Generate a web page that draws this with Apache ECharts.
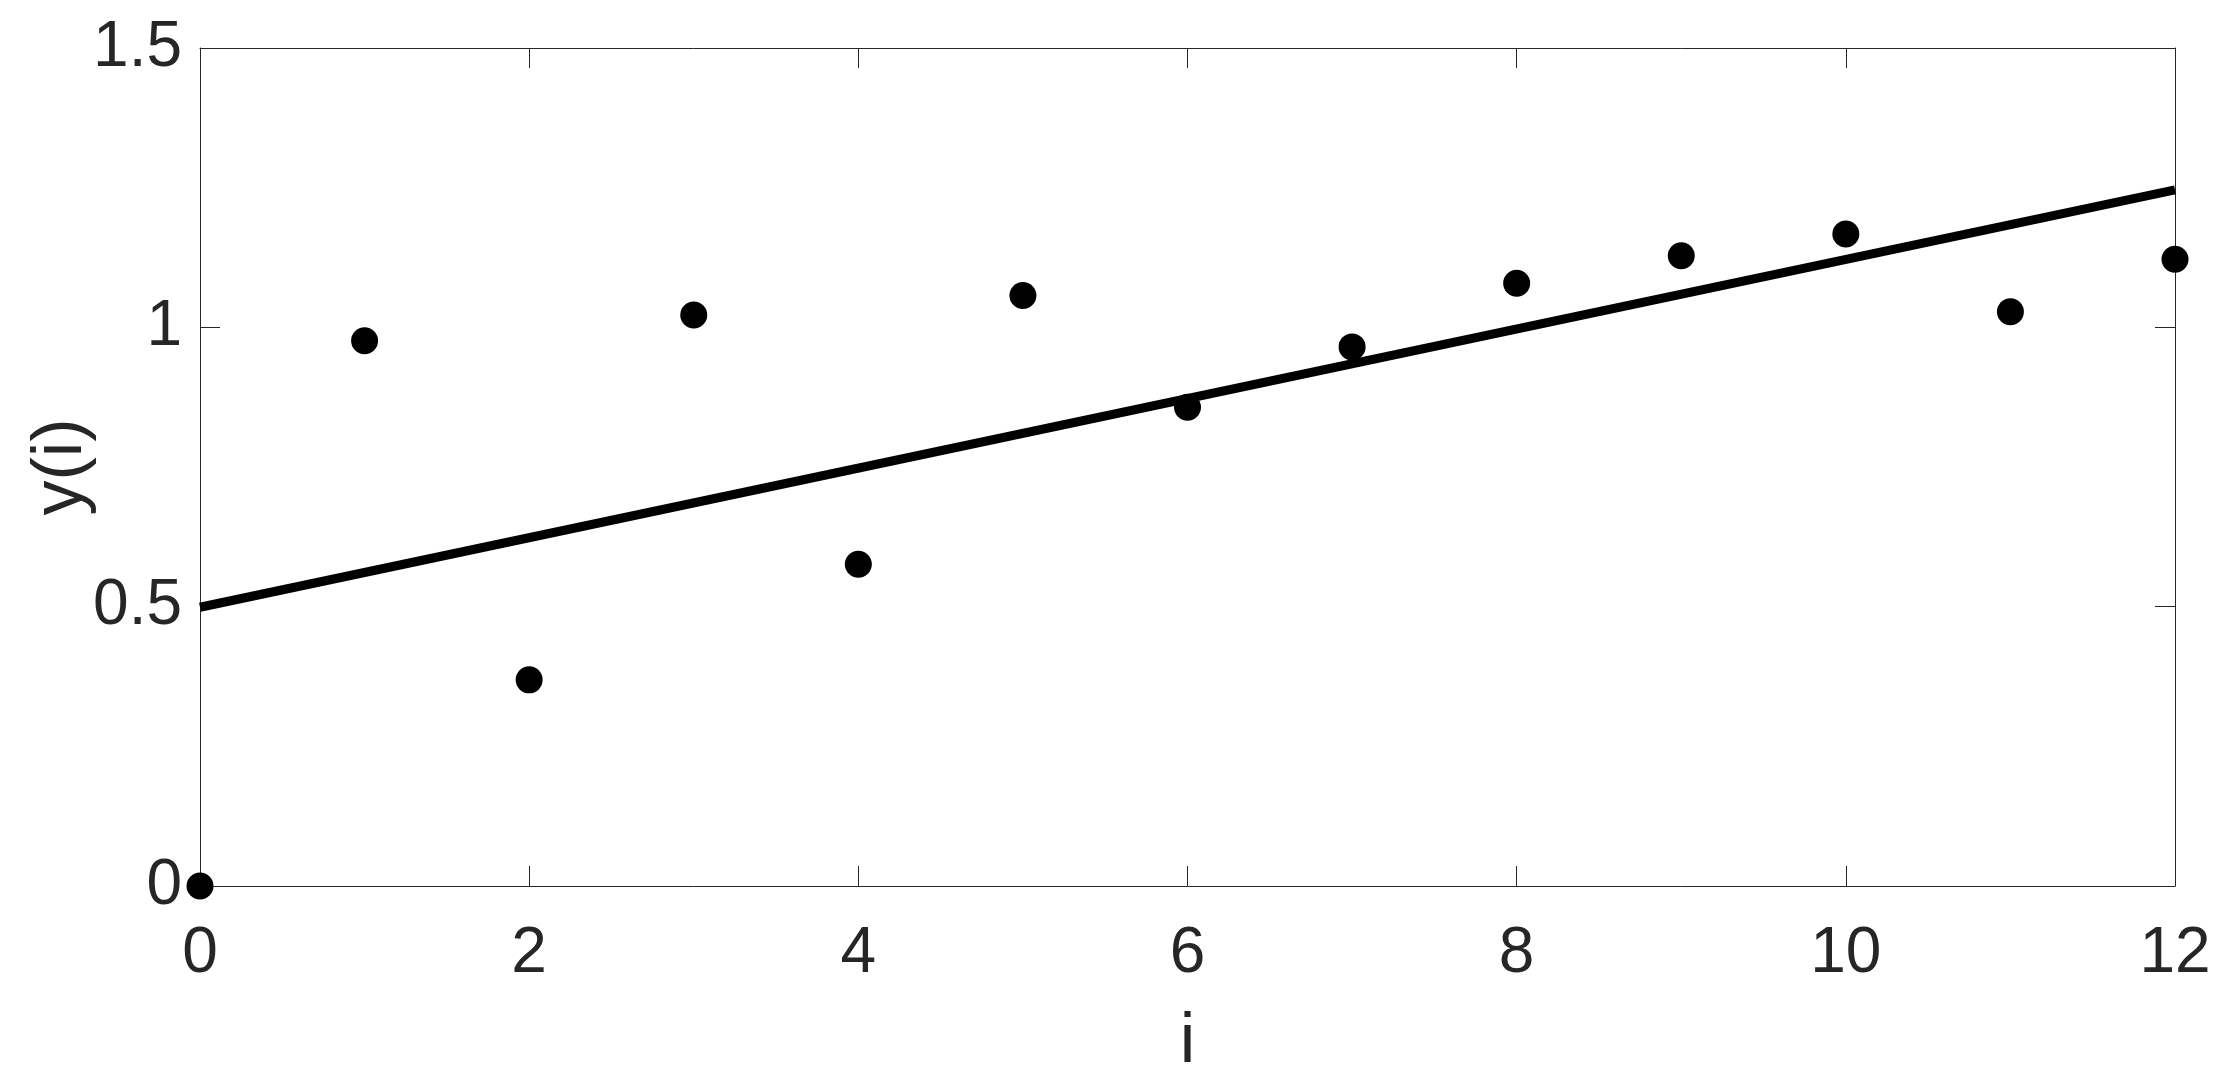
<!DOCTYPE html>
<html>
<head>
<meta charset="utf-8">
<script src="https://cdn.jsdelivr.net/npm/echarts@6/dist/echarts.min.js"></script>
<style>
  html, body { margin: 0; padding: 0; background: #fff; }
  #chart { width: 2229px; height: 1083px; }
</style>
</head>
<body>
<div id="chart"></div>
<script>
// measured points y(i)
const iValues = [0, 1, 2, 3, 4, 5, 6, 7, 8, 9, 10, 11, 12]
const yValues = [0, 0.976, 0.369, 1.022, 0.576, 1.057, 0.857, 0.965, 1.079, 1.128, 1.167, 1.028, 1.122]
// fitted line end points
const fitX = [0, 12]
const fitY = [0.499, 1.246]

const textColor = '#262626'
const font = 'Liberation Sans, Arial, Helvetica, sans-serif'

const pts = iValues.map((x, k) => [x, yValues[k]])
const fit = fitX.map((x, k) => [x, fitY[k]])

const chart = echarts.init(document.getElementById('chart'))

const baseAxis = {
    axisLine: { show: true, onZero: false, lineStyle: { color: textColor, width: 1 } },
    axisTick: { show: true, inside: true, length: 20, lineStyle: { color: textColor, width: 1 } },
    splitLine: { show: false },
    axisLabel: { color: textColor, fontSize: 64, fontFamily: font }
}

chart.setOption({
    animation: false,
    backgroundColor: '#fff',
    grid: { left: 200, right: 54, top: 48, bottom: 197 },
    xAxis: [
        {
            ...baseAxis,
            type: 'value',
            min: 0, max: 12, interval: 2,
            position: 'bottom',
            axisLabel: { ...baseAxis.axisLabel, margin: 36 },
            name: 'i',
            nameLocation: 'middle',
            nameGap: 122,
            nameMoveOverlap: false,
            nameTextStyle: { color: textColor, fontSize: 70, fontFamily: font }
        },
        {
            ...baseAxis,
            type: 'value',
            min: 0, max: 12, interval: 2,
            position: 'top',
            axisLabel: { show: false }
        }
    ],
    yAxis: [
        {
            ...baseAxis,
            type: 'value',
            min: 0, max: 1.5, interval: 0.5,
            position: 'left',
            axisLabel: { ...baseAxis.axisLabel, margin: 18 },
            name: 'y(i)',
            nameLocation: 'middle',
            nameGap: 103,
            nameMoveOverlap: false,
            nameTextStyle: { color: textColor, fontSize: 70, fontFamily: font }
        },
        {
            ...baseAxis,
            type: 'value',
            min: 0, max: 1.5, interval: 0.5,
            position: 'right',
            axisLabel: { show: false }
        }
    ],
    series: [
        {
            type: 'line',
            data: fit,
            symbol: 'none',
            lineStyle: { color: '#000', width: 9 },
            z: 2
        },
        {
            type: 'scatter',
            data: pts,
            symbol: 'circle',
            symbolSize: 27,
            itemStyle: { color: '#000', opacity: 1 },
            clip: false,
            z: 3
        }
    ]
})
</script>
</body>
</html>
